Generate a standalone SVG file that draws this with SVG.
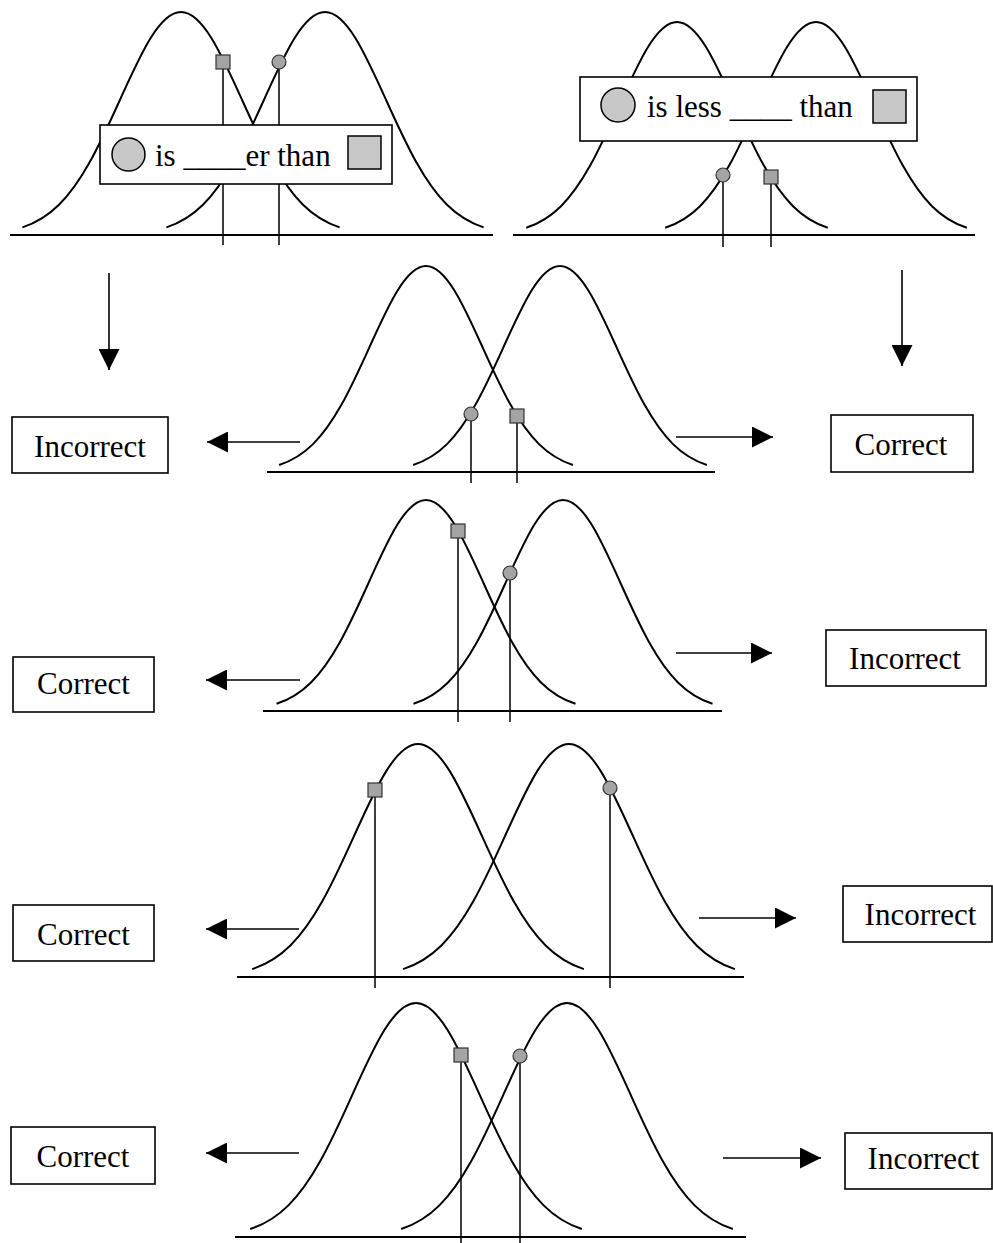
<svg xmlns="http://www.w3.org/2000/svg" xmlns:xlink="http://www.w3.org/1999/xlink" width="993" height="1243" viewBox="0 0 993 1243">
<style>
.curve{fill:none;stroke:#000;stroke-width:2;vector-effect:non-scaling-stroke}
.base{stroke:#000;stroke-width:2}
.vline{stroke:#000;stroke-width:1.5}
.sm{fill:#a4a4a4;stroke:#333;stroke-width:1.2}
.big{fill:#c8c8c8;stroke:#000;stroke-width:1.5}
.box{fill:#fff;stroke:#000;stroke-width:1.6}
.lbl{font-family:"Liberation Serif","Times New Roman",serif;font-size:31px;fill:#000}
.mid{text-anchor:middle}
.arr{stroke:#000;stroke-width:1.6;fill:none;marker-end:url(#ah)}
</style>
<defs>
<path id="gauss" class="curve" d="M -2.6,-0.034 C -2.4,-0.0517 -2.2,-0.0812 -2,-0.1353 C -1.8333,-0.1804 -1.6667,-0.2435 -1.5,-0.3247 C -1.3333,-0.4059 -1.1667,-0.5054 -1,-0.6065 C -0.8333,-0.7076 -0.6667,-0.809 -0.5,-0.8825 C -0.3333,-0.956 -0.1667,-1 0,-1 C 0.1667,-1 0.3333,-0.956 0.5,-0.8825 C 0.6667,-0.809 0.8333,-0.7076 1,-0.6065 C 1.1667,-0.5054 1.3333,-0.4059 1.5,-0.3247 C 1.6667,-0.2435 1.8333,-0.1804 2,-0.1353 C 2.2,-0.0812 2.4,-0.0517 2.6,-0.034"/>
<marker id="ah" markerUnits="userSpaceOnUse" markerWidth="21" markerHeight="21" refX="20" refY="10" orient="auto" viewBox="0 0 20 20">
<path d="M0,0 L20,10 L0,20 Z" fill="#000"/>
</marker>
</defs>

<g id="panel1">
<use xlink:href="#gauss" transform="translate(181 235) scale(61 223)"/>
<use xlink:href="#gauss" transform="translate(325 235) scale(61 223)"/>
<line class="base" x1="10" y1="235" x2="493" y2="235"/>
<line class="vline" x1="223" y1="62" x2="223" y2="245"/>
<line class="vline" x1="279" y1="62" x2="279" y2="245"/>
<rect class="sm" x="216" y="55" width="14" height="14"/>
<circle class="sm" cx="279" cy="62" r="7"/>
<rect class="box" x="100" y="125" width="292" height="59"/>
<circle class="big" cx="128.5" cy="154.5" r="16.5"/>
<text class="lbl" x="155" y="166">is ____er than</text>
<rect class="big" x="348" y="136" width="33" height="33"/>
</g>

<g id="panel2">
<use xlink:href="#gauss" transform="translate(677 235) scale(58 213)"/>
<use xlink:href="#gauss" transform="translate(816 235) scale(58 213)"/>
<line class="base" x1="513" y1="235" x2="975" y2="235"/>
<line class="vline" x1="723" y1="175" x2="723" y2="247"/>
<line class="vline" x1="771" y1="177" x2="771" y2="247"/>
<circle class="sm" cx="723" cy="175" r="7"/>
<rect class="sm" x="764" y="170" width="14" height="14"/>
<rect class="box" x="580" y="77" width="337" height="64"/>
<circle class="big" cx="618" cy="105" r="17"/>
<text class="lbl" x="647" y="117">is less ____ than</text>
<rect class="big" x="873" y="90" width="33" height="33"/>
</g>

<g id="panel3">
<use xlink:href="#gauss" transform="translate(426 472) scale(56.5 206)"/>
<use xlink:href="#gauss" transform="translate(560 472) scale(56.5 206)"/>
<line class="base" x1="267" y1="472" x2="715" y2="472"/>
<line class="vline" x1="471" y1="414" x2="471" y2="483"/>
<line class="vline" x1="517" y1="416" x2="517" y2="483"/>
<circle class="sm" cx="471" cy="414" r="7"/>
<rect class="sm" x="510" y="409" width="14" height="14"/>
</g>

<g id="panel4">
<use xlink:href="#gauss" transform="translate(426 711) scale(57.5 211)"/>
<use xlink:href="#gauss" transform="translate(563 711) scale(57.5 211)"/>
<line class="base" x1="263" y1="711" x2="722" y2="711"/>
<line class="vline" x1="458" y1="531" x2="458" y2="722"/>
<line class="vline" x1="510" y1="573" x2="510" y2="722"/>
<rect class="sm" x="451" y="524" width="14" height="14"/>
<circle class="sm" cx="510" cy="573" r="7"/>
</g>

<g id="panel5">
<use xlink:href="#gauss" transform="translate(418 977) scale(63.8 233)"/>
<use xlink:href="#gauss" transform="translate(569 977) scale(63.8 233)"/>
<line class="base" x1="237" y1="977" x2="744" y2="977"/>
<line class="vline" x1="375" y1="790" x2="375" y2="988"/>
<line class="vline" x1="610" y1="788" x2="610" y2="988"/>
<rect class="sm" x="368" y="783" width="14" height="14"/>
<circle class="sm" cx="610" cy="788" r="7"/>
</g>

<g id="panel6">
<use xlink:href="#gauss" transform="translate(416 1237) scale(63.8 234)"/>
<use xlink:href="#gauss" transform="translate(567 1237) scale(63.8 234)"/>
<line class="base" x1="235" y1="1237" x2="746" y2="1237"/>
<line class="vline" x1="461" y1="1055" x2="461" y2="1243"/>
<line class="vline" x1="520" y1="1056" x2="520" y2="1243"/>
<rect class="sm" x="454" y="1048" width="14" height="14"/>
<circle class="sm" cx="520" cy="1056" r="7"/>
</g>

<g id="label-r3-left"><rect class="box" x="12" y="417" width="156" height="56"/><text class="lbl mid" x="90" y="457">Incorrect</text></g>
<g id="label-r3-right"><rect class="box" x="831" y="415" width="142" height="57"/><text class="lbl mid" x="901" y="455">Correct</text></g>
<g id="label-r4-left"><rect class="box" x="13" y="657" width="141" height="55"/><text class="lbl mid" x="83.5" y="694">Correct</text></g>
<g id="label-r4-right"><rect class="box" x="826" y="630" width="160" height="56"/><text class="lbl mid" x="905" y="669">Incorrect</text></g>
<g id="label-r5-left"><rect class="box" x="13" y="905" width="141" height="56"/><text class="lbl mid" x="83.5" y="945">Correct</text></g>
<g id="label-r5-right"><rect class="box" x="843" y="886" width="149" height="56"/><text class="lbl mid" x="920.5" y="925">Incorrect</text></g>
<g id="label-r6-left"><rect class="box" x="11" y="1127" width="144" height="57"/><text class="lbl mid" x="83" y="1167">Correct</text></g>
<g id="label-r6-right"><rect class="box" x="845" y="1133" width="147" height="56"/><text class="lbl mid" x="923.5" y="1169">Incorrect</text></g>

<g id="connectors">
<line class="arr" x1="109" y1="273" x2="109" y2="370"/>
<line class="arr" x1="902" y1="270" x2="902" y2="366"/>
<line class="arr" x1="300" y1="442" x2="207" y2="442"/>
<line class="arr" x1="676" y1="437" x2="773" y2="437"/>
<line class="arr" x1="300" y1="680" x2="206" y2="680"/>
<line class="arr" x1="676" y1="653" x2="772" y2="653"/>
<line class="arr" x1="299" y1="929" x2="206" y2="929"/>
<line class="arr" x1="699" y1="918" x2="796" y2="918"/>
<line class="arr" x1="299" y1="1153" x2="206" y2="1153"/>
<line class="arr" x1="723" y1="1158" x2="821" y2="1158"/>
</g>
</svg>
